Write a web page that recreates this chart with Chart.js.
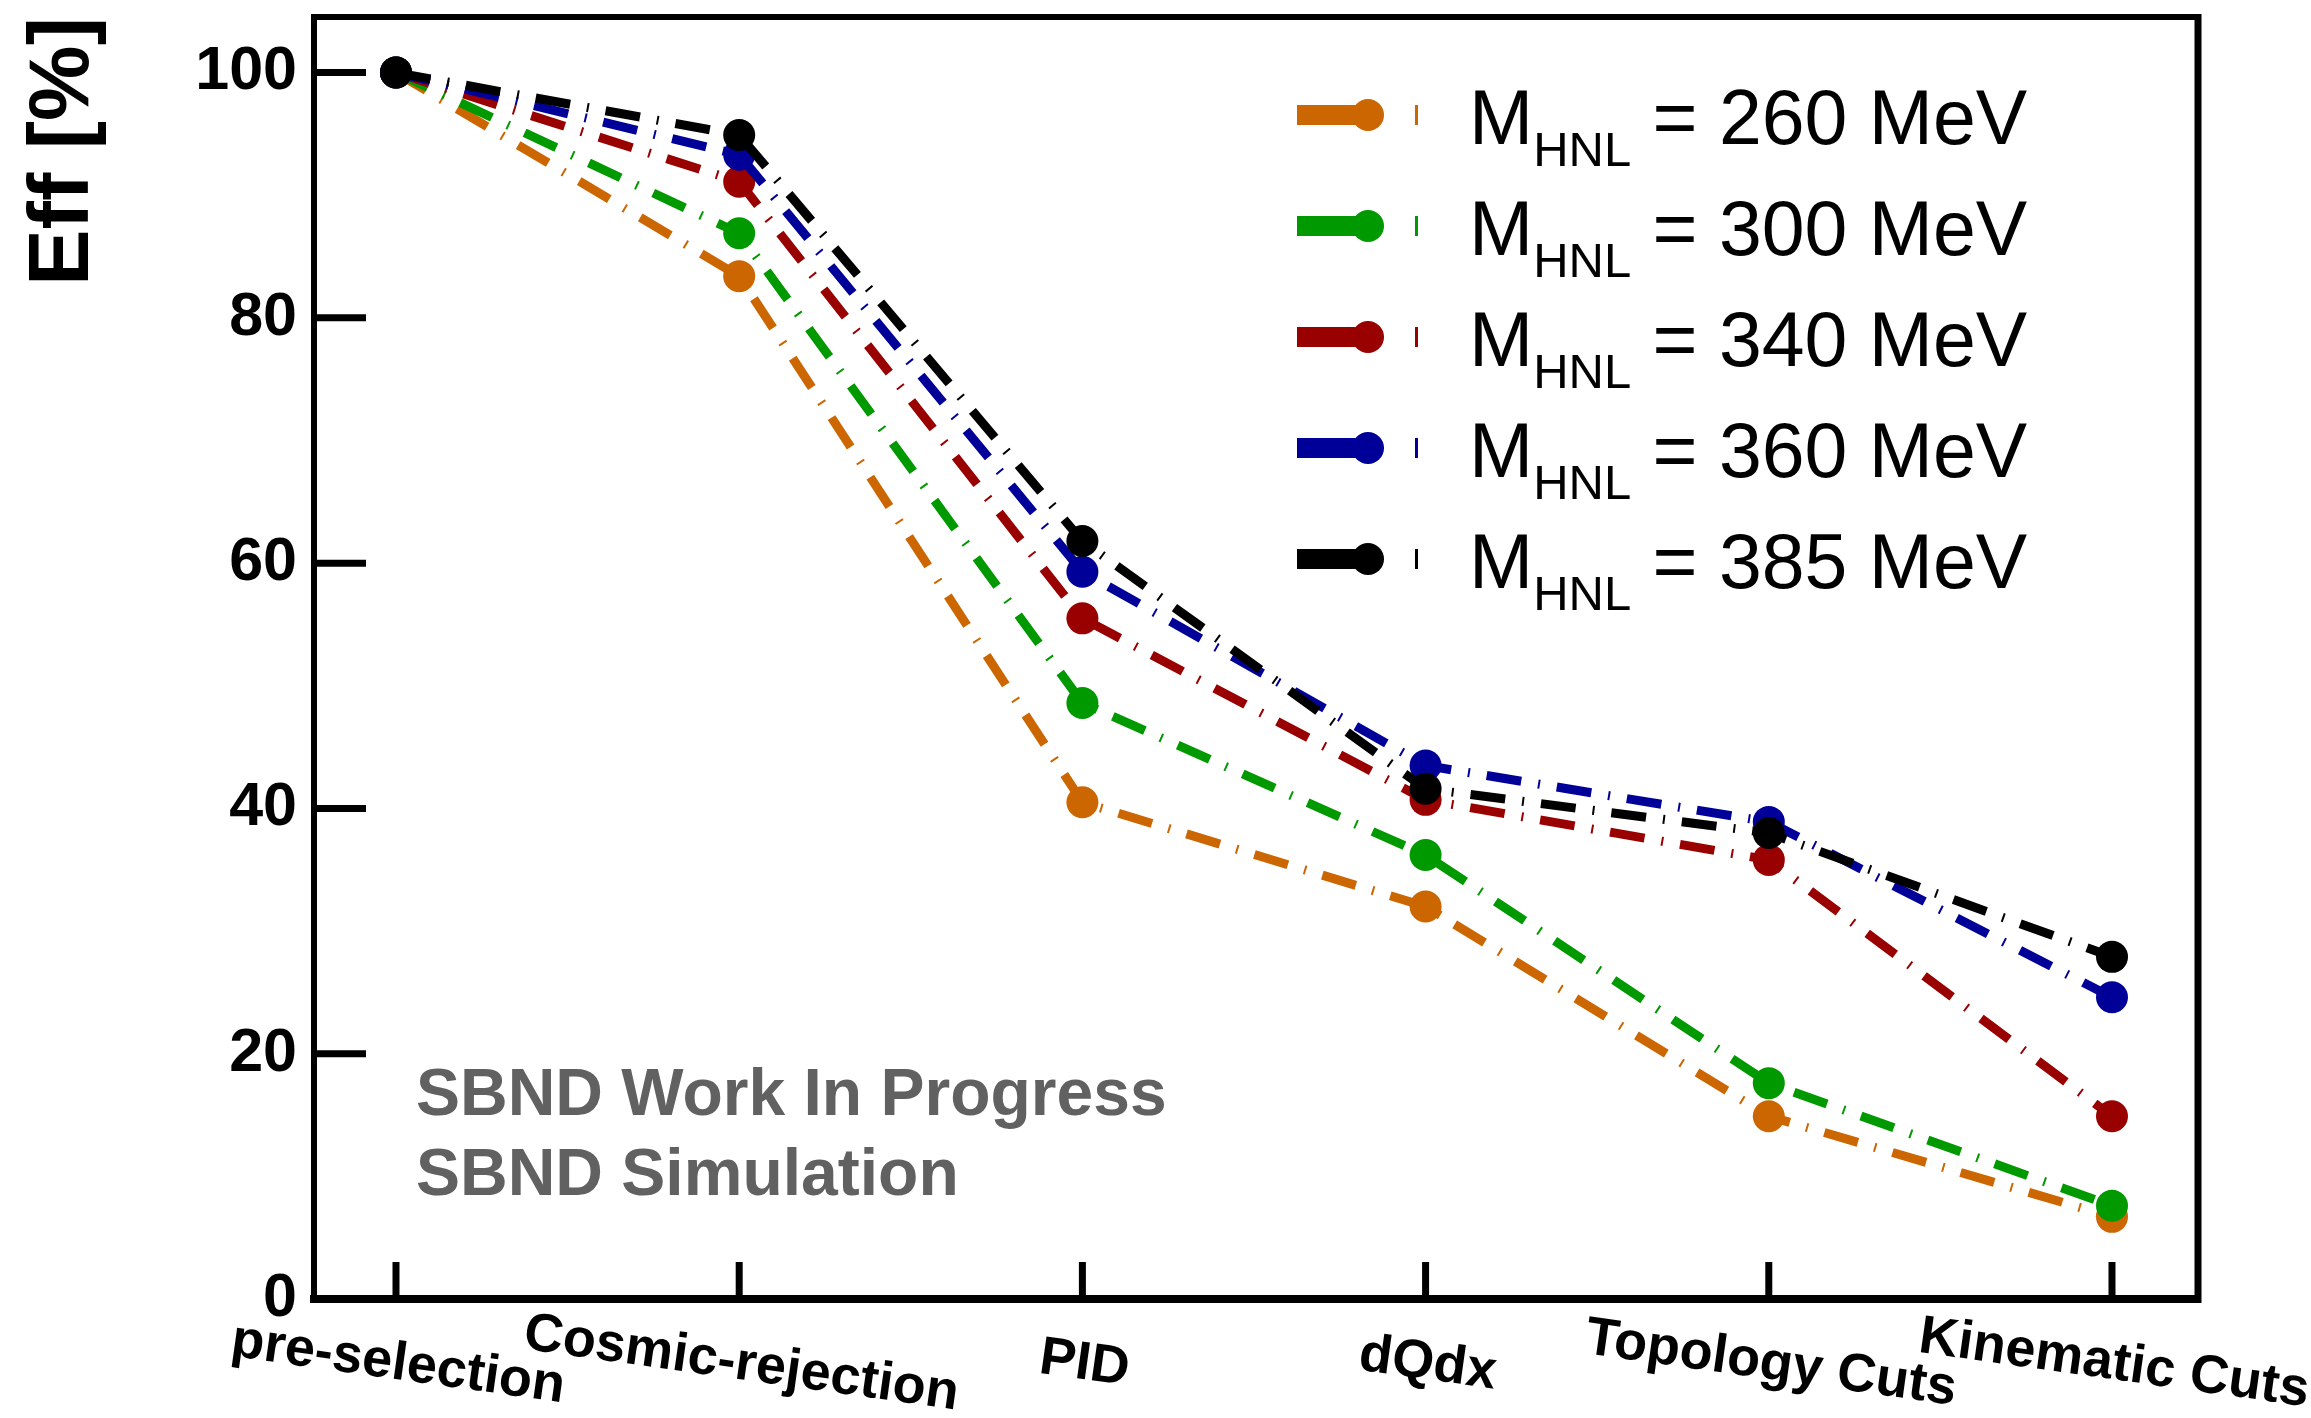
<!DOCTYPE html>
<html>
<head>
<meta charset="utf-8">
<script src="https://cdn.jsdelivr.net/npm/chart.js@4.4.1/dist/chart.umd.min.js"></script>
<style>
  html, body { margin: 0; padding: 0; background: #ffffff; }
  #wrap { width: 2311px; height: 1418px; position: relative; }
</style>
</head>
<body>
<div id="wrap"><canvas id="c"></canvas></div>
<script>
// ---- data ----
const categories = ['pre-selection', 'Cosmic-rejection', 'PID', 'dQdx', 'Topology Cuts', 'Kinematic Cuts'];
const eff260 = [100, 83.4, 40.5, 32.0, 14.9, 6.7];
const eff300 = [100, 86.9, 48.6, 36.2, 17.6, 7.6];
const eff340 = [100, 91.1, 55.5, 40.7, 35.8, 14.9];
const eff360 = [100, 93.3, 59.3, 43.5, 38.9, 24.6];
const eff385 = [100, 94.9, 61.8, 41.6, 38.0, 27.9];
const massLabels = ['260', '300', '340', '360', '385'];
const yTickValues = [0, 20, 40, 60, 80, 100];
const seriesColors = ['#cc6600', '#009900', '#990000', '#000099', '#000000'];
const yTitle = 'Eff [%]';
const watermark = ['SBND Work In Progress', 'SBND Simulation'];

const FONT = "'Liberation Sans', Arial, Helvetica, sans-serif";
const allSeries = [eff260, eff300, eff340, eff360, eff385];

function toXY(arr) { return arr.map((v, i) => ({ x: i, y: v })); }

const datasets = allSeries.map((arr, k) => ({
  label: 'M_HNL = ' + massLabels[k] + ' MeV',
  data: toXY(arr),
  borderColor: seriesColors[k],
  backgroundColor: seriesColors[k],
  pointBackgroundColor: seriesColors[k],
  pointBorderWidth: 0,
  pointRadius: 16,
  pointHoverRadius: 16,
  borderWidth: 9,
  borderDash: [35, 17, 2, 17],
  borderCapStyle: 'butt',
  tension: 0,
  fill: false,
  order: allSeries.length - k
}));

function zeroPad(scale) {
  scale.paddingTop = 0;
  scale.paddingBottom = 0;
  scale.paddingLeft = 0;
  scale.paddingRight = 0;
}

const decor = {
  id: 'decor',
  afterDraw(chart) {
    const ctx = chart.ctx;
    const ca = chart.chartArea;
    const xs = chart.scales.x;
    const ys = chart.scales.y;
    ctx.save();
    // top and right frame lines
    ctx.strokeStyle = '#000';
    ctx.lineWidth = 6;
    ctx.beginPath();
    ctx.moveTo(ca.left - 3, ca.top);
    ctx.lineTo(ca.right, ca.top);
    ctx.stroke();
    ctx.lineWidth = 7;
    ctx.beginPath();
    ctx.moveTo(ca.right, ca.top - 3);
    ctx.lineTo(ca.right, ca.bottom + 4);
    ctx.stroke();
    // inward y ticks
    ctx.lineWidth = 7;
    yTickValues.forEach(v => {
      const py = ys.getPixelForValue(v);
      ctx.beginPath();
      ctx.moveTo(ca.left, py);
      ctx.lineTo(ca.left + 52, py);
      ctx.stroke();
    });
    // inward x ticks
    categories.forEach((c, i) => {
      const px = xs.getPixelForValue(i);
      ctx.beginPath();
      ctx.moveTo(px, ca.bottom);
      ctx.lineTo(px, ca.bottom - 37);
      ctx.stroke();
    });
    // x category labels (rotated, centred on tick)
    ctx.fillStyle = '#000';
    ctx.font = 'bold 54px ' + FONT;
    ctx.textAlign = 'center';
    ctx.textBaseline = 'alphabetic';
    categories.forEach((c, i) => {
      const px = xs.getPixelForValue(i);
      ctx.save();
      ctx.translate(px, ca.bottom + 80);
      ctx.rotate(8 * Math.PI / 180);
      ctx.fillText(c, 0, 0);
      ctx.restore();
    });
    // watermark text
    ctx.fillStyle = '#616161';
    ctx.font = 'bold 66px ' + FONT;
    ctx.textAlign = 'left';
    ctx.fillText(watermark[0], 416, 1115);
    ctx.fillText(watermark[1], 416, 1195);
    // legend
    chart.data.datasets.forEach((ds, k) => {
      const base = 144 + k * 111;
      const ly = base - 29;
      ctx.strokeStyle = ds.borderColor;
      ctx.fillStyle = ds.borderColor;
      ctx.lineWidth = 20;
      ctx.lineCap = 'butt';
      ctx.beginPath();
      ctx.moveTo(1297, ly);
      ctx.lineTo(1368, ly);
      ctx.stroke();
      ctx.beginPath();
      ctx.arc(1368, ly, 16, 0, Math.PI * 2);
      ctx.fill();
      ctx.fillRect(1415, ly - 10, 3, 20);
      ctx.fillStyle = '#000';
      ctx.font = '77px ' + FONT;
      ctx.textAlign = 'left';
      let x = 1469;
      ctx.fillText('M', x, base);
      x += ctx.measureText('M').width;
      ctx.font = '49px ' + FONT;
      ctx.fillText('HNL', x, base + 22);
      x += ctx.measureText('HNL').width;
      ctx.font = '77px ' + FONT;
      ctx.fillText(' = ' + massLabels[k] + ' MeV', x, base);
    });
    ctx.restore();
  }
};

new Chart(document.getElementById('c'), {
  type: 'line',
  data: { datasets },
  plugins: [decor],
  options: {
    responsive: true,
    maintainAspectRatio: false,
    devicePixelRatio: 1,
    animation: false,
    events: [],
    layout: { padding: { left: 0, top: 17, right: 113, bottom: 0 } },
    plugins: { legend: { display: false }, tooltip: { enabled: false } },
    scales: {
      x: {
        type: 'linear',
        min: -0.2389,
        max: 5.2506,
        grid: { display: false, drawTicks: false },
        border: { display: true, color: '#000', width: 8 },
        ticks: { display: false, stepSize: 1 },
        afterFit(scale) { scale.height = 119; zeroPad(scale); }
      },
      y: {
        type: 'linear',
        min: 0,
        max: 104.53,
        grid: { display: false, drawTicks: false },
        border: { display: true, color: '#000', width: 6 },
        ticks: {
          stepSize: 20,
          includeBounds: false,
          padding: 17,
          color: '#000',
          font: { family: FONT, size: 61, weight: 'bold' }
        },
        title: {
          display: true,
          text: yTitle,
          align: 'end',
          color: '#000',
          padding: { top: 14, bottom: 0 },
          font: { family: FONT, size: 85, weight: 'bold' }
        },
        afterFit(scale) { scale.width = 314; zeroPad(scale); }
      }
    }
  }
});
</script>
</body>
</html>
